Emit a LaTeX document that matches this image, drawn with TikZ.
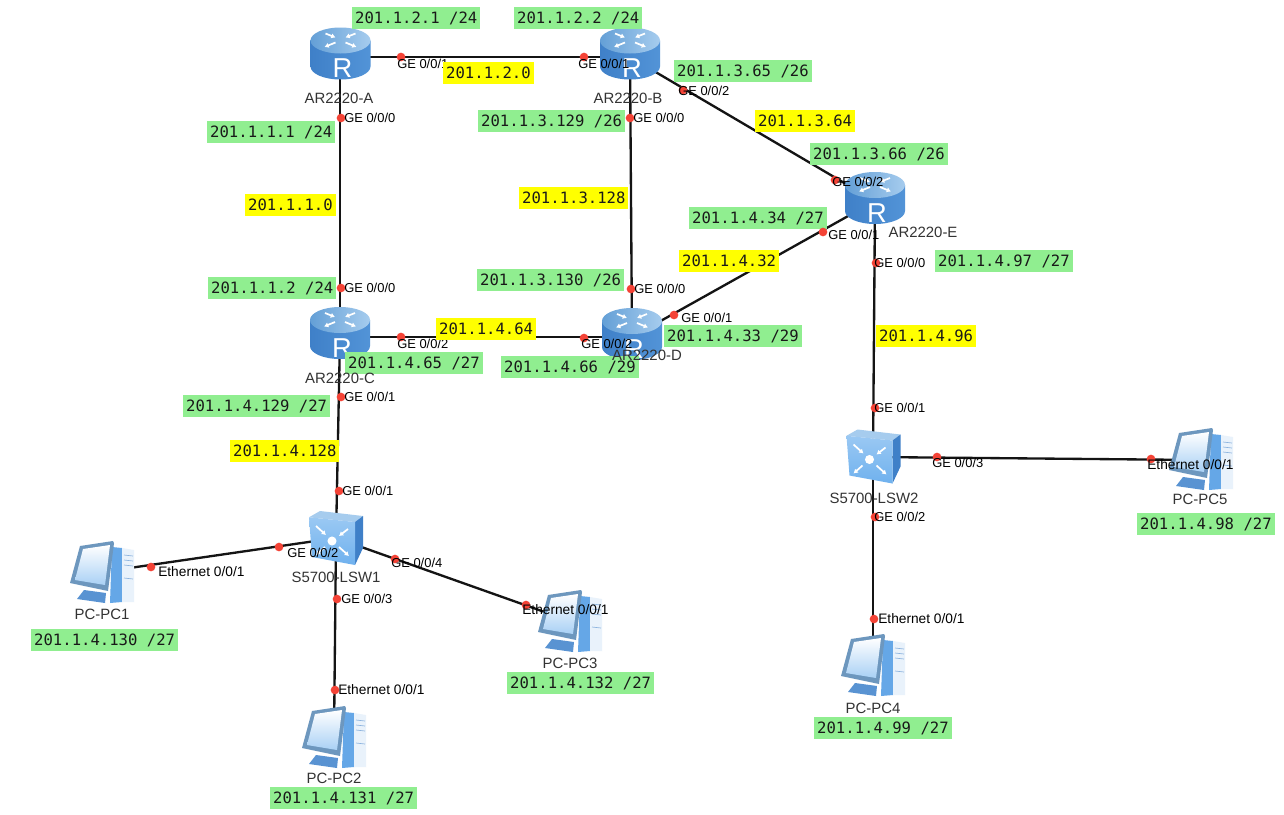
\documentclass[tikz,border=0pt]{standalone}
\usepackage{fontspec}
\setmainfont{Liberation Sans}
\newfontfamily\ipfont{DejaVu Sans Mono}
\usetikzlibrary{arrows.meta}
\definecolor{ipgreen}{HTML}{90EE90}
\definecolor{netyellow}{HTML}{FFFF00}
\definecolor{portred}{HTML}{F44336}
\definecolor{icondark}{HTML}{3F80C8}
\definecolor{iconmid}{HTML}{6FB1EE}
\definecolor{iconlight}{HTML}{A6CCEE}
\tikzset{
  link/.style={draw=black!92,line width=1.75pt},
  devrouter/.style={inner sep=0pt,minimum width=34pt,minimum height=28pt},
  devswitch/.style={inner sep=0pt,minimum width=28pt,minimum height=28pt},
  devpc/.style={inner sep=0pt,minimum width=30pt,minimum height=30pt},
  portdot/.style={circle,fill=portred,inner sep=0pt,minimum size=6.5pt},
  portlabel/.style={anchor=west,inner sep=0pt,text=black,font=\fontsize{9.7}{11}\selectfont,text height=7pt,text depth=0pt},
  devlabel/.style={inner sep=0pt,text=black!80,font=\fontsize{11.2}{13}\selectfont},
  ipbox/.style={anchor=west,fill=ipgreen,inner xsep=2.2pt,inner ysep=0pt,minimum height=16.5pt,text=black!90,font=\ipfont\fontsize{11.7}{13}\selectfont},
  netbox/.style={ipbox,fill=netyellow},
  wArrow/.style={draw=white,line width=1.3pt,-{Latex[length=3.2pt,width=4pt]}},
  pics/router/.style={code={
    \path[left color=icondark,middle color=iconmid,right color=icondark!60!iconmid]
      (-30,-13) -- (-30,13) arc[start angle=180,end angle=360,x radius=22.5pt,y radius=9.75pt] -- (30,-13) -- cycle;
    \path[left color=iconmid!90!black,right color=iconlight] (0,-13) ellipse[x radius=22.5pt,y radius=9.75pt];
    \draw[wArrow] (-15,-20) -- (-5,-16);
    \draw[wArrow] (15,-20) -- (5,-16);
    \draw[wArrow] (-5,-11) -- (-16,-6.5);
    \draw[wArrow] (5,-11) -- (16,-6.5);
    \node[inner sep=0pt,text=white,font=\fontsize{20.5}{20}\selectfont] (letter) at (2,15) {R};
  }},
  pics/switchicon/.style={code={
    \fill[iconlight] (-27,-20.7) -- (-16,-27) -- (27,-22) -- (19,-16) -- cycle;
    \fill[icondark] (19,-16) -- (27,-22) -- (27,10) -- (19,27) -- cycle;
    \path[top color=iconmid!70!white,bottom color=iconmid] (-27,-20.7) -- (19,-16) -- (19,27) -- (-24,19) -- cycle;
    \fill[white] (-4,3) circle[radius=3.4pt];
    \draw[wArrow] (-20,-12) -- (-10,-3);
    \draw[wArrow] (12,-9) -- (3,-2);
    \draw[wArrow] (-11,9) -- (-20,17);
    \draw[wArrow] (3,9) -- (13,18);
  }},
  pics/pcicon/.style={code={
    \fill[icondark!75!iconlight] (-18,18) -- (4,21) -- (3,31) -- (-25,27) -- cycle;
    \fill[iconmid!80!icondark] (10,-25) -- (20,-24) -- (20,30) -- (8,31) -- cycle;
    \fill[iconlight!25!white] (20,-24) -- (32,-22) -- (32,30) -- (20,30) -- cycle;
    \draw[icondark!60,line width=.5pt] (22,-17) -- (31,-16) (22,-12) -- (31,-11) (22,-7) -- (31,-6) (22,6) -- (31,7);
    \fill[iconmid!75!black!85] (-22,-26) -- (11,-31) -- (12,-29) -- (6,19) -- (-32,11) -- cycle;
    \path[top color=white,bottom color=iconmid!60!white] (-19,-23) -- (8,-27) -- (3,13) -- (-27,8) -- cycle;
  }},
}
\newcommand{\portat}[6]{%
  \node[portdot] (#1) at (#2,#3) {};
  \node[portlabel] (#1-t) at (#4,#5) {#6};}
\newcommand{\ethtext}{{\fontsize{10.3}{11}\selectfont Ethernet 0/0/1}}
\newcommand{\ipat}[4]{\node[ipbox] (#1) at (#2,#3) {#4};}
\newcommand{\netat}[4]{\node[netbox] (#1) at (#2,#3) {#4};}
\begin{document}
\begin{tikzpicture}[x=0.75pt,y=-0.75pt]
\useasboundingbox (0,0) rectangle (1284,814);
\fill[white] (0,0) rectangle (1284,814);
% device anchors
\node[devrouter] (A) at (340,57) {};
\node[devrouter] (B) at (630,57) {};
\node[devrouter] (C) at (340,337) {};
\node[devrouter] (D) at (632,337) {};
\node[devrouter] (E) at (875,201) {};
\node[devswitch] (S1) at (336,538) {};
\node[devswitch] (S2) at (873,457) {};
\node[devpc] (P1) at (102,572) {};
\node[devpc] (P2) at (334,737) {};
\node[devpc] (P3) at (570,621) {};
\node[devpc] (P4) at (873,665) {};
\node[devpc] (P5) at (1201,460) {};
% connectors
\draw[link] (A) -- (B);
\draw[link] (A) -- (C);
\draw[link] (B) -- (D);
\draw[link] (B) -- (E);
\draw[link] (C) -- (D);
\draw[link] (D) -- (E);
\draw[link] (E) -- (S2);
\draw[link] (C) -- (S1);
\draw[link] (S1) -- (P1);
\draw[link] (S1) -- (P2);
\draw[link] (S1) -- (P3);
\draw[link] (S2) -- (P4);
\draw[link] (S2) -- (P5);
% icons
\pic (iA) at (340.5,53.5) {router};
\pic (iB) at (630,53.5) {router};
\pic (iC) at (340,333) {router};
\pic (iD) at (632,334) {router};
\pic (iE) at (875,198) {router};
\pic at (336,538) {switchicon};
\pic at (873.5,456.5) {switchicon};
\pic at (102,572) {pcicon};
\pic at (334,737) {pcicon};
\pic at (570,621) {pcicon};
\pic at (873,665) {pcicon};
\pic at (1201,459) {pcicon};
% address boxes
\ipat{i1}{352}{18}{201.1.2.1 /24}
\ipat{i2}{514}{18}{201.1.2.2 /24}
\ipat{i3}{674}{71}{201.1.3.65 /26}
\ipat{i4}{207}{132}{201.1.1.1 /24}
\ipat{i5}{478}{121}{201.1.3.129 /26}
\ipat{i6}{810}{154}{201.1.3.66 /26}
\ipat{i7}{689}{218}{201.1.4.34 /27}
\ipat{i8}{935}{261}{201.1.4.97 /27}
\ipat{i9}{208}{288}{201.1.1.2 /24}
\ipat{i10}{477}{280}{201.1.3.130 /26}
\ipat{i11}{664}{336}{201.1.4.33 /29}
\ipat{i12}{345}{363}{201.1.4.65 /27}
\ipat{i13}{501}{367}{201.1.4.66 /29}
\ipat{i14}{183}{406}{201.1.4.129 /27}
\ipat{i15}{1137}{524}{201.1.4.98 /27}
\ipat{i16}{31}{640}{201.1.4.130 /27}
\ipat{i17}{507}{683}{201.1.4.132 /27}
\ipat{i18}{814}{728}{201.1.4.99 /27}
\ipat{i19}{270}{798}{201.1.4.131 /27}
% device names
\node[devlabel] (nA) at (339,98) {AR2220-A};
\node[devlabel] (nB) at (628,98) {AR2220-B};
\node[devlabel] (nC) at (340,378) {AR2220-C};
\node[devlabel] (nD) at (647,355) {AR2220-D};
\node[devlabel] (nE) at (923,232) {AR2220-E};
\node[devlabel] (nS1) at (336,577) {S5700-LSW1};
\node[devlabel] (nS2) at (874,498) {S5700-LSW2};
\node[devlabel] (nP1) at (102,614) {PC-PC1};
\node[devlabel] (nP2) at (334,778) {PC-PC2};
\node[devlabel] (nP3) at (570,663) {PC-PC3};
\node[devlabel] (nP4) at (873,708) {PC-PC4};
\node[devlabel] (nP5) at (1200,499) {PC-PC5};
% ports
\portat{p1}{401}{57}{397}{64}{GE 0/0/1}
\portat{p2}{584}{57}{578}{64}{GE 0/0/1}
\portat{p3}{341}{118}{344}{118}{GE 0/0/0}
\portat{p4}{630}{118}{633}{118}{GE 0/0/0}
\portat{p5}{683}{90}{678}{91}{GE 0/0/2}
\portat{p6}{835}{180}{832}{182}{GE 0/0/2}
\portat{p7}{823}{232}{828}{235}{GE 0/0/1}
\portat{p8}{876}{263}{874}{263}{GE 0/0/0}
\portat{p9}{341}{288}{344}{288}{GE 0/0/0}
\portat{p10}{631}{289}{634}{289}{GE 0/0/0}
\portat{p11}{674}{315}{681}{318}{GE 0/0/1}
\portat{p12}{401}{337}{397}{344}{GE 0/0/2}
\portat{p13}{584}{338}{581}{344}{GE 0/0/2}
\portat{p14}{341}{397}{344}{397}{GE 0/0/1}
\portat{p15}{339}{491}{342}{491}{GE 0/0/1}
\portat{p16}{279}{547}{287}{553}{GE 0/0/2}
\portat{p17}{395}{559}{391}{563}{GE 0/0/4}
\portat{p18}{337}{599}{341}{599}{GE 0/0/3}
\portat{p19}{151}{567}{158}{572}{\ethtext}
\portat{p20}{335}{690}{338}{690}{\ethtext}
\portat{p21}{526}{605}{522}{610}{\ethtext}
\portat{p22}{875}{408}{874}{408}{GE 0/0/1}
\portat{p23}{937}{457}{932}{463}{GE 0/0/3}
\portat{p24}{875}{517}{874}{517}{GE 0/0/2}
\portat{p25}{874}{619}{878}{619}{\ethtext}
\portat{p26}{1151}{459}{1147}{465}{\ethtext}
% network boxes
\netat{n1}{443}{73}{201.1.2.0}
\netat{n2}{755}{121}{201.1.3.64}
\netat{n3}{245}{205}{201.1.1.0}
\netat{n4}{519}{198}{201.1.3.128}
\netat{n5}{679}{261}{201.1.4.32}
\netat{n6}{436}{329}{201.1.4.64}
\netat{n7}{876}{336}{201.1.4.96}
\netat{n8}{230}{451}{201.1.4.128}
\end{tikzpicture}
\end{document}
